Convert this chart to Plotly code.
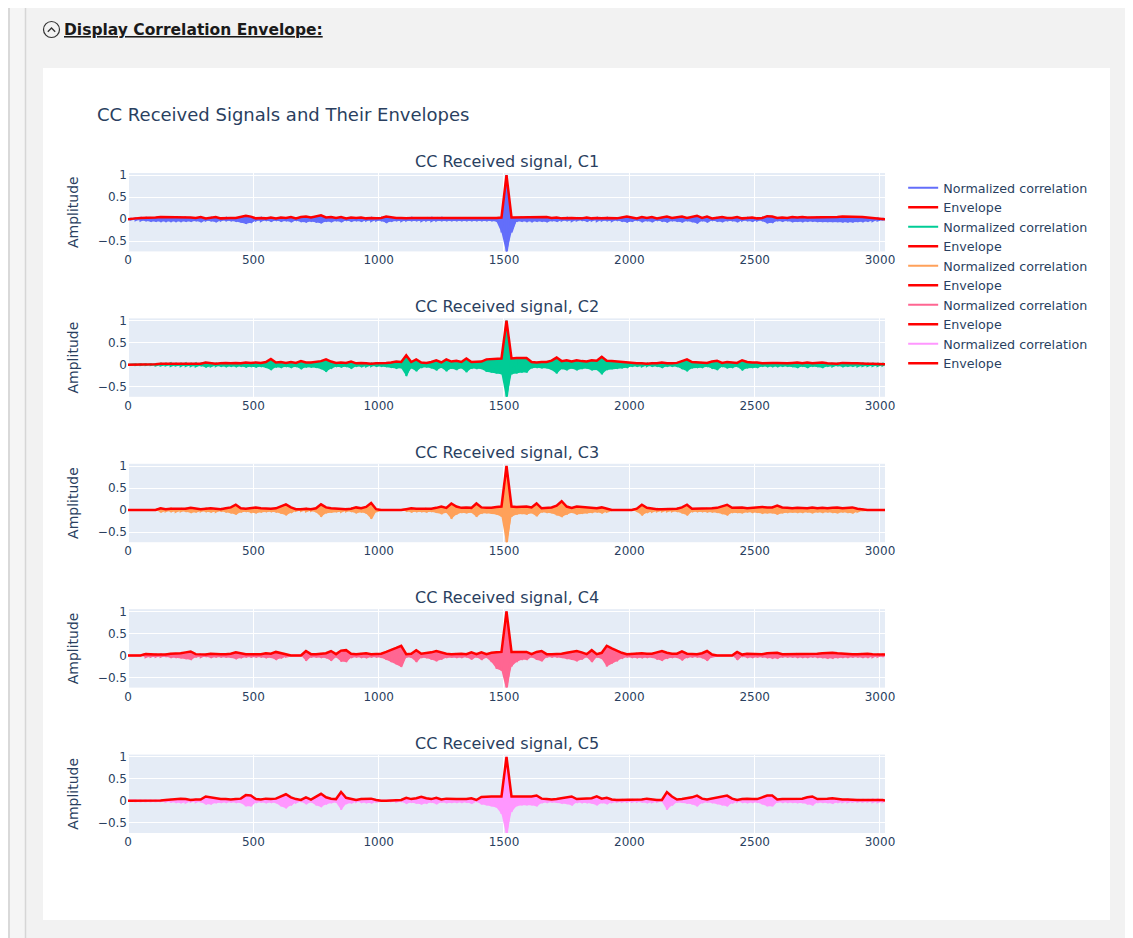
import plotly.graph_objects as go
from plotly.subplots import make_subplots

# ---------------- data ----------------
# lag axis (samples): 0, then 10..3010 every 20, then 3020
lags = [0] + list(range(10, 3011, 20)) + [3020]

titles = ["CC Received signal, C1", "CC Received signal, C2", "CC Received signal, C3",
          "CC Received signal, C4", "CC Received signal, C5"]
corr_colors = ["#636EFA", "#00CC96", "#FFA15A", "#FF6692", "#FF97FF"]
env_color = "red"

# envelope values (upper) and lowest excursions of the normalized correlation
c1_env = [0.0,
    0.01, 0.02, 0.03, 0.03, 0.04, 0.04, 0.05, 0.05, 0.05, 0.05,
    0.05, 0.05, 0.04, 0.03, 0.05, 0.02, 0.03, 0.05, 0.02, 0.03,
    0.03, 0.03, 0.05, 0.08, 0.06, 0.02, 0.03, 0.02, 0.04, 0.02,
    0.04, 0.03, 0.05, 0.02, 0.05, 0.06, 0.04, 0.06, 0.09, 0.04,
    0.05, 0.03, 0.05, 0.02, 0.04, 0.03, 0.04, 0.02, 0.03, 0.02,
    0.03, 0.06, 0.04, 0.03, 0.03, 0.02, 0.03, 0.03, 0.03, 0.02,
    0.03, 0.02, 0.03, 0.03, 0.03, 0.03, 0.03, 0.03, 0.03, 0.03,
    0.03, 0.03, 0.03, 0.03, 0.04, 1.00, 0.04, 0.04, 0.05, 0.05,
    0.05, 0.04, 0.04, 0.05, 0.03, 0.04, 0.02, 0.03, 0.03, 0.02,
    0.02, 0.04, 0.02, 0.03, 0.02, 0.03, 0.03, 0.02, 0.04, 0.06,
    0.04, 0.02, 0.05, 0.03, 0.05, 0.02, 0.04, 0.06, 0.03, 0.04,
    0.06, 0.03, 0.05, 0.08, 0.03, 0.06, 0.02, 0.04, 0.05, 0.03,
    0.03, 0.05, 0.02, 0.03, 0.04, 0.02, 0.03, 0.07, 0.06, 0.03,
    0.04, 0.03, 0.05, 0.04, 0.05, 0.04, 0.04, 0.05, 0.05, 0.05,
    0.05, 0.05, 0.06, 0.06, 0.06, 0.05, 0.05, 0.04, 0.03, 0.02,
    0.01, 0.0]
c1_low = [0.0,
    -0.01, -0.02, -0.03, -0.04, -0.05, -0.05, -0.06, -0.06, -0.06, -0.06,
    -0.06, -0.05, -0.05, -0.04, -0.06, -0.03, -0.04, -0.06, -0.03, -0.04,
    -0.04, -0.05, -0.07, -0.10, -0.08, -0.03, -0.04, -0.03, -0.05, -0.03,
    -0.05, -0.04, -0.06, -0.03, -0.06, -0.07, -0.05, -0.07, -0.09, -0.05,
    -0.06, -0.04, -0.06, -0.03, -0.05, -0.04, -0.05, -0.03, -0.04, -0.03,
    -0.04, -0.08, -0.05, -0.04, -0.04, -0.03, -0.04, -0.04, -0.04, -0.03,
    -0.04, -0.03, -0.04, -0.04, -0.04, -0.04, -0.04, -0.04, -0.04, -0.04,
    -0.04, -0.04, -0.04, -0.05, -0.30, -0.78, -0.30, -0.05, -0.05, -0.06,
    -0.06, -0.05, -0.05, -0.06, -0.04, -0.05, -0.03, -0.04, -0.04, -0.03,
    -0.03, -0.05, -0.03, -0.04, -0.03, -0.04, -0.04, -0.03, -0.05, -0.07,
    -0.05, -0.03, -0.06, -0.04, -0.06, -0.03, -0.05, -0.07, -0.04, -0.05,
    -0.07, -0.04, -0.06, -0.09, -0.04, -0.07, -0.03, -0.05, -0.06, -0.04,
    -0.04, -0.06, -0.03, -0.04, -0.05, -0.03, -0.04, -0.09, -0.08, -0.04,
    -0.05, -0.04, -0.06, -0.05, -0.06, -0.05, -0.05, -0.06, -0.06, -0.06,
    -0.06, -0.06, -0.07, -0.07, -0.07, -0.06, -0.06, -0.05, -0.04, -0.03,
    -0.01, 0.0]

c2_env = [0.0,
    0.0, 0.01, 0.01, 0.01, 0.01, 0.01, 0.02, 0.02, 0.03, 0.02,
    0.02, 0.03, 0.02, 0.03, 0.02, 0.05, 0.03, 0.02, 0.03, 0.04,
    0.03, 0.04, 0.03, 0.05, 0.04, 0.05, 0.04, 0.06, 0.13, 0.05,
    0.06, 0.04, 0.06, 0.04, 0.08, 0.05, 0.05, 0.06, 0.08, 0.12,
    0.07, 0.04, 0.05, 0.04, 0.07, 0.03, 0.04, 0.03, 0.02, 0.03,
    0.03, 0.04, 0.05, 0.07, 0.06, 0.21, 0.06, 0.12, 0.05, 0.04,
    0.06, 0.10, 0.05, 0.12, 0.07, 0.09, 0.06, 0.14, 0.06, 0.07,
    0.07, 0.12, 0.13, 0.13, 0.14, 1.00, 0.14, 0.15, 0.15, 0.15,
    0.06, 0.05, 0.06, 0.06, 0.09, 0.16, 0.08, 0.10, 0.07, 0.10,
    0.08, 0.07, 0.10, 0.09, 0.18, 0.09, 0.08, 0.07, 0.06, 0.05,
    0.03, 0.03, 0.03, 0.02, 0.03, 0.03, 0.05, 0.03, 0.03, 0.04,
    0.08, 0.12, 0.06, 0.05, 0.05, 0.04, 0.07, 0.09, 0.04, 0.06,
    0.05, 0.04, 0.10, 0.06, 0.05, 0.05, 0.03, 0.04, 0.04, 0.04,
    0.03, 0.03, 0.04, 0.05, 0.03, 0.05, 0.03, 0.04, 0.05, 0.03,
    0.03, 0.02, 0.04, 0.03, 0.03, 0.03, 0.02, 0.02, 0.02, 0.02,
    0.02, 0.01]
c2_low = [0.0,
    0.0, -0.01, -0.01, -0.01, -0.01, -0.02, -0.02, -0.02, -0.03, -0.02,
    -0.03, -0.03, -0.03, -0.04, -0.03, -0.06, -0.04, -0.03, -0.04, -0.05,
    -0.04, -0.05, -0.04, -0.06, -0.05, -0.06, -0.05, -0.07, -0.12, -0.06,
    -0.07, -0.05, -0.07, -0.05, -0.10, -0.06, -0.06, -0.07, -0.10, -0.16,
    -0.09, -0.05, -0.06, -0.05, -0.09, -0.04, -0.05, -0.04, -0.03, -0.04,
    -0.04, -0.05, -0.07, -0.09, -0.08, -0.26, -0.08, -0.15, -0.07, -0.06,
    -0.08, -0.13, -0.07, -0.15, -0.09, -0.12, -0.08, -0.17, -0.09, -0.10,
    -0.10, -0.16, -0.18, -0.20, -0.22, -0.80, -0.22, -0.20, -0.18, -0.18,
    -0.08, -0.07, -0.08, -0.08, -0.12, -0.20, -0.10, -0.13, -0.09, -0.13,
    -0.10, -0.09, -0.13, -0.12, -0.22, -0.12, -0.10, -0.09, -0.08, -0.07,
    -0.04, -0.04, -0.04, -0.03, -0.04, -0.04, -0.07, -0.04, -0.04, -0.05,
    -0.10, -0.15, -0.08, -0.07, -0.07, -0.05, -0.09, -0.12, -0.05, -0.08,
    -0.07, -0.05, -0.13, -0.08, -0.07, -0.07, -0.04, -0.05, -0.05, -0.05,
    -0.04, -0.04, -0.05, -0.07, -0.04, -0.07, -0.04, -0.05, -0.07, -0.04,
    -0.04, -0.03, -0.05, -0.04, -0.04, -0.04, -0.03, -0.03, -0.03, -0.03,
    -0.02, -0.01]

c3_env = [0.0,
    0.0, 0.0, 0.0, 0.0, 0.0, 0.0, 0.04, 0.02, 0.03, 0.03,
    0.02, 0.03, 0.05, 0.04, 0.02, 0.03, 0.04, 0.03, 0.02, 0.04,
    0.06, 0.12, 0.04, 0.03, 0.05, 0.06, 0.04, 0.03, 0.03, 0.04,
    0.08, 0.13, 0.06, 0.02, 0.02, 0.03, 0.02, 0.04, 0.13, 0.06,
    0.04, 0.03, 0.03, 0.02, 0.03, 0.06, 0.04, 0.07, 0.16, 0.02,
    0.0, 0.0, 0.0, 0.0, 0.0, 0.02, 0.04, 0.03, 0.03, 0.04,
    0.03, 0.05, 0.08, 0.05, 0.15, 0.08, 0.05, 0.06, 0.05, 0.15,
    0.06, 0.05, 0.05, 0.07, 0.08, 1.00, 0.08, 0.07, 0.07, 0.08,
    0.06, 0.15, 0.04, 0.05, 0.06, 0.10, 0.20, 0.08, 0.05, 0.08,
    0.07, 0.06, 0.05, 0.04, 0.06, 0.03, 0.0, 0.0, 0.0, 0.0,
    0.0, 0.03, 0.12, 0.05, 0.03, 0.02, 0.02, 0.02, 0.02, 0.03,
    0.06, 0.12, 0.03, 0.03, 0.03, 0.04, 0.04, 0.05, 0.08, 0.12,
    0.05, 0.05, 0.06, 0.04, 0.05, 0.05, 0.07, 0.06, 0.06, 0.10,
    0.06, 0.05, 0.04, 0.05, 0.05, 0.04, 0.06, 0.04, 0.05, 0.04,
    0.05, 0.06, 0.04, 0.05, 0.06, 0.03, 0.01, 0.0, 0.0, 0.0,
    0.0, 0.0]
c3_low = [0.0,
    0.0, 0.0, 0.0, 0.0, 0.0, 0.0, -0.05, -0.03, -0.04, -0.04,
    -0.03, -0.04, -0.06, -0.05, -0.03, -0.04, -0.05, -0.04, -0.03, -0.05,
    -0.07, -0.10, -0.05, -0.04, -0.06, -0.07, -0.05, -0.04, -0.04, -0.05,
    -0.08, -0.12, -0.06, -0.02, -0.02, -0.03, -0.02, -0.05, -0.15, -0.07,
    -0.05, -0.04, -0.04, -0.03, -0.04, -0.07, -0.05, -0.08, -0.20, -0.03,
    0.0, 0.0, 0.0, 0.0, 0.0, -0.03, -0.05, -0.04, -0.04, -0.05,
    -0.04, -0.06, -0.09, -0.06, -0.20, -0.10, -0.06, -0.07, -0.06, -0.15,
    -0.08, -0.07, -0.08, -0.10, -0.15, -0.80, -0.15, -0.10, -0.09, -0.10,
    -0.07, -0.14, -0.05, -0.06, -0.07, -0.12, -0.16, -0.10, -0.06, -0.10,
    -0.08, -0.07, -0.06, -0.05, -0.07, -0.04, 0.0, 0.0, 0.0, 0.0,
    0.0, -0.04, -0.12, -0.06, -0.04, -0.03, -0.03, -0.03, -0.03, -0.04,
    -0.07, -0.12, -0.04, -0.04, -0.04, -0.05, -0.05, -0.06, -0.09, -0.12,
    -0.06, -0.06, -0.07, -0.05, -0.06, -0.06, -0.08, -0.07, -0.07, -0.10,
    -0.07, -0.06, -0.05, -0.06, -0.06, -0.05, -0.07, -0.05, -0.06, -0.05,
    -0.06, -0.07, -0.05, -0.06, -0.07, -0.04, -0.01, 0.0, 0.0, 0.0,
    0.0, 0.0]

c4_env = [0.0,
    0.0, 0.0, 0.0, 0.03, 0.02, 0.02, 0.02, 0.02, 0.04, 0.04,
    0.05, 0.07, 0.09, 0.03, 0.03, 0.02, 0.04, 0.03, 0.03, 0.03,
    0.04, 0.07, 0.05, 0.03, 0.03, 0.03, 0.03, 0.05, 0.04, 0.08,
    0.05, 0.02, 0.0, 0.0, 0.0, 0.10, 0.03, 0.03, 0.04, 0.05,
    0.10, 0.03, 0.11, 0.12, 0.04, 0.03, 0.04, 0.05, 0.03, 0.03,
    0.04, 0.08, 0.12, 0.17, 0.22, 0.03, 0.04, 0.12, 0.04, 0.05,
    0.07, 0.10, 0.07, 0.04, 0.03, 0.04, 0.04, 0.03, 0.07, 0.03,
    0.07, 0.03, 0.06, 0.07, 0.08, 1.00, 0.08, 0.08, 0.08, 0.08,
    0.03, 0.08, 0.10, 0.03, 0.03, 0.03, 0.04, 0.06, 0.08, 0.10,
    0.07, 0.03, 0.12, 0.03, 0.06, 0.22, 0.16, 0.11, 0.06, 0.03,
    0.04, 0.05, 0.05, 0.04, 0.04, 0.07, 0.10, 0.06, 0.04, 0.04,
    0.09, 0.04, 0.03, 0.03, 0.05, 0.10, 0.02, 0.0, 0.0, 0.0,
    0.0, 0.08, 0.02, 0.04, 0.04, 0.03, 0.03, 0.05, 0.06, 0.06,
    0.03, 0.03, 0.03, 0.04, 0.04, 0.04, 0.03, 0.04, 0.05, 0.06,
    0.06, 0.05, 0.04, 0.04, 0.03, 0.03, 0.04, 0.04, 0.03, 0.02,
    0.02, 0.02]
c4_low = [0.0,
    0.0, 0.0, 0.0, -0.04, -0.03, -0.03, -0.03, -0.03, -0.05, -0.05,
    -0.06, -0.08, -0.10, -0.04, -0.04, -0.03, -0.05, -0.04, -0.04, -0.04,
    -0.05, -0.08, -0.06, -0.04, -0.04, -0.04, -0.04, -0.06, -0.05, -0.10,
    -0.06, -0.03, 0.0, 0.0, 0.0, -0.12, -0.04, -0.04, -0.05, -0.06,
    -0.12, -0.04, -0.14, -0.15, -0.05, -0.04, -0.05, -0.06, -0.04, -0.04,
    -0.05, -0.10, -0.15, -0.20, -0.26, -0.04, -0.05, -0.15, -0.05, -0.06,
    -0.09, -0.13, -0.09, -0.05, -0.04, -0.05, -0.05, -0.04, -0.09, -0.04,
    -0.10, -0.05, -0.15, -0.30, -0.35, -0.80, -0.25, -0.15, -0.10, -0.10,
    -0.04, -0.10, -0.13, -0.04, -0.04, -0.04, -0.05, -0.08, -0.10, -0.13,
    -0.09, -0.04, -0.15, -0.04, -0.08, -0.25, -0.18, -0.13, -0.07, -0.04,
    -0.05, -0.06, -0.06, -0.05, -0.05, -0.09, -0.12, -0.07, -0.05, -0.05,
    -0.11, -0.05, -0.04, -0.04, -0.06, -0.12, -0.03, 0.0, 0.0, 0.0,
    0.0, -0.10, -0.03, -0.05, -0.05, -0.04, -0.04, -0.06, -0.07, -0.07,
    -0.04, -0.04, -0.04, -0.05, -0.05, -0.05, -0.04, -0.05, -0.06, -0.07,
    -0.07, -0.06, -0.05, -0.05, -0.04, -0.04, -0.05, -0.05, -0.04, -0.03,
    -0.03, -0.02]

c5_env = [0.0,
    0.0, 0.01, 0.01, 0.01, 0.01, 0.01, 0.01, 0.02, 0.03, 0.04,
    0.05, 0.04, 0.02, 0.03, 0.03, 0.10, 0.08, 0.05, 0.04, 0.04,
    0.03, 0.04, 0.05, 0.13, 0.12, 0.04, 0.03, 0.05, 0.04, 0.05,
    0.10, 0.15, 0.08, 0.04, 0.02, 0.08, 0.03, 0.10, 0.16, 0.08,
    0.05, 0.04, 0.20, 0.07, 0.05, 0.02, 0.04, 0.05, 0.05, 0.02,
    0.0, 0.0, 0.01, 0.02, 0.02, 0.07, 0.04, 0.06, 0.09, 0.06,
    0.04, 0.07, 0.03, 0.05, 0.04, 0.04, 0.04, 0.04, 0.06, 0.02,
    0.09, 0.10, 0.10, 0.10, 0.10, 1.00, 0.10, 0.10, 0.10, 0.10,
    0.10, 0.12, 0.05, 0.04, 0.03, 0.04, 0.06, 0.07, 0.10, 0.04,
    0.05, 0.05, 0.06, 0.10, 0.05, 0.07, 0.03, 0.02, 0.02, 0.02,
    0.02, 0.02, 0.03, 0.05, 0.03, 0.02, 0.02, 0.20, 0.10, 0.03,
    0.04, 0.06, 0.08, 0.12, 0.05, 0.03, 0.05, 0.07, 0.10, 0.12,
    0.05, 0.02, 0.04, 0.05, 0.04, 0.04, 0.08, 0.12, 0.12, 0.03,
    0.04, 0.04, 0.04, 0.05, 0.05, 0.08, 0.10, 0.04, 0.04, 0.05,
    0.06, 0.04, 0.03, 0.03, 0.02, 0.02, 0.02, 0.02, 0.03, 0.03,
    0.02, 0.01]
c5_low = [0.0,
    0.0, -0.01, -0.01, -0.01, -0.01, -0.01, -0.01, -0.02, -0.03, -0.04,
    -0.05, -0.04, -0.02, -0.03, -0.03, -0.08, -0.08, -0.05, -0.04, -0.04,
    -0.03, -0.04, -0.05, -0.12, -0.12, -0.04, -0.03, -0.05, -0.04, -0.05,
    -0.12, -0.17, -0.10, -0.04, -0.02, -0.07, -0.03, -0.10, -0.14, -0.08,
    -0.05, -0.04, -0.20, -0.07, -0.05, -0.02, -0.04, -0.05, -0.05, -0.02,
    0.0, 0.0, -0.01, -0.02, -0.02, -0.06, -0.04, -0.06, -0.08, -0.06,
    -0.04, -0.07, -0.03, -0.05, -0.04, -0.04, -0.04, -0.04, -0.06, -0.02,
    -0.08, -0.10, -0.12, -0.15, -0.30, -0.80, -0.25, -0.12, -0.10, -0.10,
    -0.10, -0.12, -0.05, -0.04, -0.03, -0.04, -0.06, -0.07, -0.10, -0.04,
    -0.05, -0.05, -0.06, -0.10, -0.05, -0.07, -0.03, -0.02, -0.02, -0.02,
    -0.02, -0.02, -0.03, -0.05, -0.03, -0.02, -0.02, -0.20, -0.10, -0.03,
    -0.04, -0.06, -0.08, -0.12, -0.05, -0.03, -0.05, -0.07, -0.10, -0.12,
    -0.05, -0.02, -0.04, -0.05, -0.04, -0.04, -0.08, -0.12, -0.12, -0.03,
    -0.04, -0.04, -0.04, -0.05, -0.05, -0.08, -0.10, -0.04, -0.04, -0.05,
    -0.06, -0.04, -0.03, -0.03, -0.02, -0.02, -0.02, -0.02, -0.03, -0.03,
    -0.02, -0.01]

envs = [c1_env, c2_env, c3_env, c4_env, c5_env]
lows = [c1_low, c2_low, c3_low, c4_low, c5_low]
for e, l in zip(envs, lows):
    assert len(e) == len(lags) and len(l) == len(lags), (len(e), len(l), len(lags))

# ---------------- layout geometry ----------------
# the page body has an 8 px margin; the figure starts at page (8, 8)
OFF = 8
W, H = 1133 - OFF, 938 - OFF
ML, MR, MT, MB = 128 - OFF, 248, 173 - OFF, 105
PW, PH = W - ML - MR, H - MT - MB  # 757 x 660


def px(x):  # page x pixel -> paper fraction
    return (x - OFF - ML) / PW


def py(y):  # page y pixel -> paper fraction
    return (H + OFF - MB - y) / PH


FONT = "DejaVu Sans, Verdana, sans-serif"

fig = make_subplots(rows=5, cols=1, subplot_titles=titles,
                    vertical_spacing=67 / PH)

for i in range(5):
    # solid band between the lowest excursion and the envelope
    fig.add_trace(go.Scatter(x=lags + lags[::-1], y=envs[i] + lows[i][::-1],
                             mode="lines", fill="toself", fillcolor=corr_colors[i],
                             line=dict(width=0, color=corr_colors[i]),
                             showlegend=False, hoverinfo="skip"), row=i + 1, col=1)
    xs, ys = [], []
    for lg, hi, lo in zip(lags, envs[i], lows[i]):
        xs += [lg, lg]
        ys += [hi, lo]
    fig.add_trace(go.Scatter(x=xs, y=ys, mode="lines", name="Normalized correlation",
                             line=dict(color=corr_colors[i], width=2)), row=i + 1, col=1)
    fig.add_trace(go.Scatter(x=lags, y=envs[i], mode="lines", name="Envelope",
                             line=dict(color=env_color, width=2.5)), row=i + 1, col=1)

fig.update_xaxes(range=[0, 3020], tickfont=dict(size=12))
fig.update_yaxes(range=[-0.73, 1.05], title_text="Amplitude", tickfont=dict(size=12),
                 title_font=dict(size=14))
for a in fig.layout.annotations:
    a.font = dict(size=16, family=FONT, color="#2a3f5f")

# page chrome
GRAY = "#f2f2f2"
shapes = [
    dict(type="rect", xref="paper", yref="paper", x0=px(0), x1=px(1133), y0=py(0), y1=py(68),
         fillcolor=GRAY, line=dict(width=0), layer="below"),
    dict(type="rect", xref="paper", yref="paper", x0=px(0), x1=px(1133), y0=py(920), y1=py(938),
         fillcolor=GRAY, line=dict(width=0), layer="below"),
    dict(type="rect", xref="paper", yref="paper", x0=px(0), x1=px(43), y0=py(68), y1=py(920),
         fillcolor=GRAY, line=dict(width=0), layer="below"),
    dict(type="rect", xref="paper", yref="paper", x0=px(1110), x1=px(1133), y0=py(68), y1=py(920),
         fillcolor=GRAY, line=dict(width=0), layer="below"),
    dict(type="rect", xref="paper", yref="paper", x0=px(8), x1=px(25), y0=py(0), y1=py(938),
         fillcolor="#f5f5f5", line=dict(width=0), layer="below"),
    dict(type="line", xref="paper", yref="paper", x0=px(9), x1=px(9), y0=py(0), y1=py(938),
         line=dict(color="#cfcfcf", width=1.5), layer="below"),
    dict(type="line", xref="paper", yref="paper", x0=px(25.5), x1=px(25.5), y0=py(0), y1=py(938),
         line=dict(color="#d6d6d6", width=1.5), layer="below"),
    dict(type="circle", xref="paper", yref="paper", x0=px(43.5), x1=px(59.5), y0=py(37.5), y1=py(21.5),
         line=dict(color="#333333", width=1.2)),
    dict(type="path", xref="paper", yref="paper",
         path=f"M {px(47.8)},{py(31.8)} L {px(51.5)},{py(28.0)} L {px(55.2)},{py(31.8)}",
         line=dict(color="#333333", width=1.3)),
]

fig.add_annotation(xref="paper", yref="paper", x=px(62), y=py(30), xanchor="left", yanchor="middle",
                   text="<b><u>Display Correlation Envelope:</u></b>", showarrow=False,
                   font=dict(family="DejaVu Sans, sans-serif", size=15.5, color="#1a1a1a"))

fig.update_layout(
    width=W, height=H, autosize=False,
    margin=dict(l=ML, r=MR, t=MT, b=MB),
    paper_bgcolor="white",
    plot_bgcolor="#E5ECF6",
    shapes=shapes,
    title=dict(text="CC Received Signals and Their Envelopes", x=(97 - OFF) / W, xanchor="left",
               y=(H + OFF - 115) / H, yanchor="middle", font=dict(size=18, color="#2a3f5f")),
    legend=dict(x=1.024, y=1.0, xanchor="left", yanchor="top", font=dict(size=12.7)),
    font=dict(family=FONT, color="#2a3f5f"),
)

fig.write_html("out.html")
